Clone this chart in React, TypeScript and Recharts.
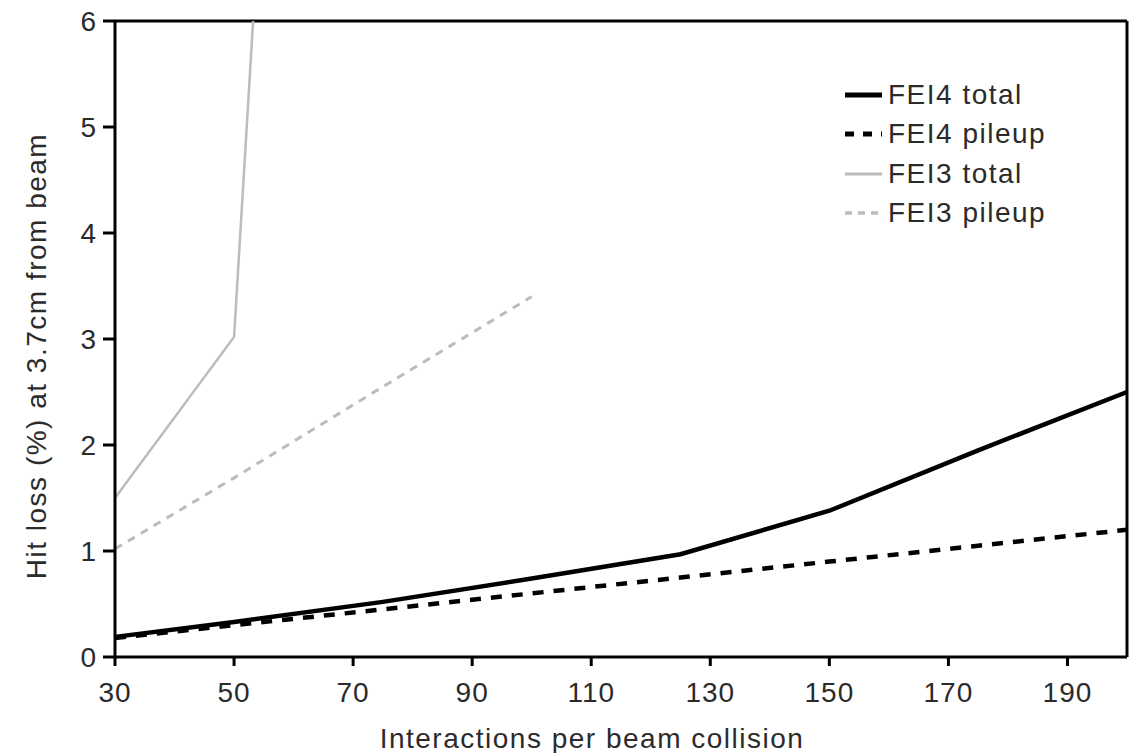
import { LineChart, Line, XAxis, YAxis, ReferenceLine, Legend } from 'recharts';

// Interactions per beam collision (x) for each curve
const fei4Interactions = [30, 50, 75, 100, 125, 150, 175, 200];
const fei4Total = [0.19, 0.33, 0.52, 0.74, 0.97, 1.38, 1.95, 2.5];
const fei4Pileup = [0.18, 0.3, 0.45, 0.6, 0.75, 0.9, 1.05, 1.2];

// FEI3 total shoots off the top of the axis right after 50
const fei3TotalInteractions = [30, 50, 75];
const fei3Total = [1.5, 3.02, 26.3];

const fei3PileupInteractions = [30, 50, 75, 100];
const fei3Pileup = [1.02, 1.69, 2.55, 3.4];

const xTicks = [30, 50, 70, 90, 110, 130, 150, 170, 190];
const yTicks = [0, 1, 2, 3, 4, 5, 6];

const toPoints = (xs: number[], ys: number[]) => xs.map((x, i) => ({ x, y: ys[i] }));

const FONT = '"Liberation Sans", Arial, sans-serif';
const TEXT = '#2b2b2b';
const GREY = '#bcbcbc';

const series = [
  { name: 'FEI4 total', data: toPoints(fei4Interactions, fei4Total), stroke: '#000', width: 4.5, dash: undefined, legendDash: undefined },
  { name: 'FEI4 pileup', data: toPoints(fei4Interactions, fei4Pileup), stroke: '#000', width: 4.5, dash: '11 10', legendDash: '9 9' },
  { name: 'FEI3 total', data: toPoints(fei3TotalInteractions, fei3Total), stroke: GREY, width: 2.5, dash: undefined, legendDash: undefined },
  { name: 'FEI3 pileup', data: toPoints(fei3PileupInteractions, fei3Pileup), stroke: GREY, width: 3, dash: '8 7', legendDash: '7 6' },
];

const LegendBox = () => (
  <div style={{ fontFamily: FONT, fontSize: 28, color: TEXT, letterSpacing: 1.5 }}>
    {series.map((s) => (
      <div key={s.name} style={{ display: 'flex', alignItems: 'center', height: 39.5 }}>
        <svg width={37} height={10} style={{ marginRight: 6 }}>
          <line x1={0} y1={5} x2={37} y2={5} stroke={s.stroke} strokeWidth={s.width + 0.5} strokeDasharray={s.legendDash} />
        </svg>
        <span>{s.name}</span>
      </div>
    ))}
  </div>
);

const XTitle = ({ viewBox }: any) => (
  <text
    x={viewBox.x + viewBox.width / 2 - 29}
    y={viewBox.y + viewBox.height - 5}
    textAnchor="middle"
    fontFamily={FONT}
    fontSize={28}
    letterSpacing={1.5}
    fill={TEXT}
  >
    Interactions per beam collision
  </text>
);

const YTitle = ({ viewBox }: any) => {
  const cx = 46;
  const cy = viewBox.y + viewBox.height / 2 + 17;
  return (
    <text
      x={cx}
      y={cy}
      transform={`rotate(-90, ${cx}, ${cy})`}
      textAnchor="middle"
      fontFamily={FONT}
      fontSize={28}
      letterSpacing={1.5}
      fill={TEXT}
    >
      Hit loss (%) at 3.7cm from beam
    </text>
  );
};

const tickStyle = { fontSize: 28, fill: TEXT, fontFamily: FONT, letterSpacing: 1 };

export default function App() {
  return (
    <div style={{ position: 'absolute', left: 0, top: 0, background: '#fff' }}>
      <LineChart width={1140} height={753} margin={{ top: 21, right: 13, bottom: 0, left: 0 }}>
        <XAxis
          type="number"
          dataKey="x"
          domain={[30, 200]}
          ticks={xTicks}
          stroke="#000"
          strokeWidth={3}
          tickSize={9}
          tickMargin={16}
          tick={tickStyle}
          tickLine={{ stroke: '#000', strokeWidth: 3 }}
          height={96}
          label={<XTitle />}
        />
        <YAxis
          type="number"
          dataKey="y"
          domain={[0, 6]}
          ticks={yTicks}
          allowDataOverflow
          stroke="#000"
          strokeWidth={3}
          tickSize={12}
          tickMargin={6}
          tick={tickStyle}
          tickLine={{ stroke: '#000', strokeWidth: 3 }}
          width={115}
          label={<YTitle />}
        />
        <ReferenceLine y={6} stroke="#000" strokeWidth={3} />
        <ReferenceLine x={200} stroke="#000" strokeWidth={3} />
        {series.map((s) => (
          <Line
            key={s.name}
            data={s.data}
            dataKey="y"
            name={s.name}
            type="linear"
            stroke={s.stroke}
            strokeWidth={s.width}
            strokeDasharray={s.dash}
            dot={false}
            activeDot={false}
            isAnimationActive={false}
          />
        ))}
        <Legend
          layout="vertical"
          align="center"
          verticalAlign="middle"
          content={<LegendBox />}
          wrapperStyle={{ top: 75, left: 845, width: 280 }}
        />
      </LineChart>
    </div>
  );
}
